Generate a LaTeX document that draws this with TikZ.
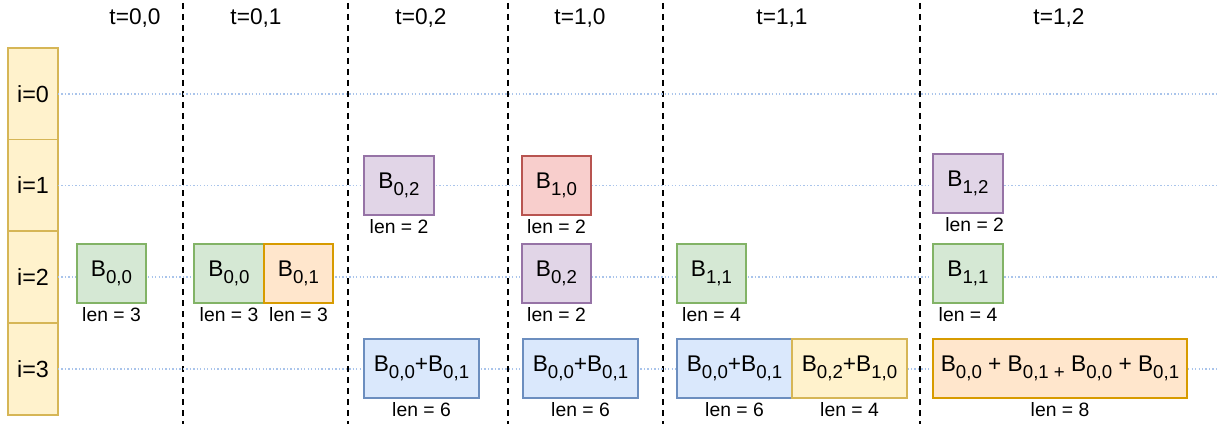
\documentclass[tikz,border=0pt]{standalone}
\usepackage{fontspec}
\setmainfont{Liberation Sans}
\usetikzlibrary{positioning}
\definecolor{mygreen}{RGB}{213,232,212}
\definecolor{mygreenline}{RGB}{130,179,102}
\definecolor{myorange}{RGB}{255,230,204}
\definecolor{myorangeline}{RGB}{215,155,0}
\definecolor{mypurple}{RGB}{225,213,231}
\definecolor{mypurpleline}{RGB}{150,115,166}
\definecolor{myred}{RGB}{248,206,204}
\definecolor{myredline}{RGB}{184,84,80}
\definecolor{myblue}{RGB}{218,232,252}
\definecolor{myblueline}{RGB}{108,142,191}
\definecolor{myyellow}{RGB}{255,242,204}
\definecolor{myyellowline}{RGB}{214,182,86}
\definecolor{mydots}{RGB}{169,196,235}
\newcommand{\bsub}[1]{B\raisebox{-0.3em}{\fontsize{14pt}{14pt}\selectfont #1}}

\begin{document}
\begin{tikzpicture}[x=0.75pt,y=-0.75pt,
  blk/.style={draw, line width=1.2pt, minimum height=44pt, inner sep=0pt, outer sep=0pt,
    anchor=west, font=\fontsize{17pt}{20pt}\selectfont},
  grn/.style={blk, fill=mygreen, draw=mygreenline},
  org/.style={blk, fill=myorange, draw=myorangeline},
  prp/.style={blk, fill=mypurple, draw=mypurpleline},
  rd/.style={blk, fill=myred, draw=myredline},
  blu/.style={blk, fill=myblue, draw=myblueline},
  ylw/.style={blk, fill=myyellow, draw=myyellowline},
  lenlbl/.style={inner sep=0pt, outer sep=0pt, font=\fontsize{14.5pt}{16pt}\selectfont},
  rowbox/.style={draw=myyellowline, fill=myyellow, line width=1.2pt, minimum width=37.5pt,
    minimum height=69pt, outer sep=0pt, font=\fontsize{17.5pt}{20pt}\selectfont},
  hdr/.style={font=\fontsize{17pt}{20pt}\selectfont},
  rowline/.style={mydots, line width=1.3pt, dash pattern=on 1pt off 1.6pt},
  sep/.style={line width=1.5pt, dash pattern=on 4.5pt off 3.75pt}]
\useasboundingbox (0,0) rectangle (1219,424);

% time steps
\foreach \x in {183,348,508,663,920}
  \draw[sep] (\x,3) -- (\x,424);
\node[hdr] (t00) at (135,18) {t=0,0};
\node[hdr] (t01) at (256,18) {t=0,1};
\node[hdr] (t02) at (421,18) {t=0,2};
\node[hdr] (t10) at (580,18) {t=1,0};
\node[hdr] (t11) at (782,18) {t=1,1};
\node[hdr] (t12) at (1059,18) {t=1,2};

% ranks
\coordinate (rightend) at (1219,0);
\foreach \r/\y in {0/94,1/185.5,2/277,3/369}{
  \node[rowbox] (i\r) at (33,\y) {i=\r};
  \draw[rowline] (i\r.east) -- (i\r.east -| rightend);
}

% t=0,0
\node[grn, minimum width=51.75pt] (a1) at (77,273.5) {\bsub{0,0}};
\node[lenlbl, below=3.5pt of a1] (la1) {len = 3};

% t=0,1
\node[grn, minimum width=52.5pt] (b1) at (194,273.5) {\bsub{0,0}};
\node[org, minimum width=51.75pt, right=0pt of b1] (b2) {\bsub{0,1}};
\node[lenlbl, below=3.5pt of b1] (lb1) {len = 3};
\node[lenlbl, below=3.5pt of b2] (lb2) {len = 3};

% t=0,2
\node[prp, minimum width=52.5pt] (c1) at (364,185.5) {\bsub{0,2}};
\node[blu, minimum width=86.25pt] (c2) at (364,368.5) {\bsub{0,0}+\bsub{0,1}};
\node[lenlbl, below=3.5pt of c1] (lc1) {len = 2};
\node[lenlbl, below=3.5pt of c2] (lc2) {len = 6};

% t=1,0
\node[rd, minimum width=51.75pt] (d1) at (522,185.5) {\bsub{1,0}};
\node[prp, minimum width=51.75pt] (d2) at (522,273.5) {\bsub{0,2}};
\node[blu, minimum width=86.25pt] (d3) at (523,368.5) {\bsub{0,0}+\bsub{0,1}};
\node[lenlbl, below=3.5pt of d1] (ld1) {len = 2};
\node[lenlbl, below=3.5pt of d2] (ld2) {len = 2};
\node[lenlbl, below=3.5pt of d3] (ld3) {len = 6};

% t=1,1
\node[grn, minimum width=51.75pt] (e1) at (677,273.5) {\bsub{1,1}};
\node[blu, minimum width=86.25pt] (e2) at (677,368.5) {\bsub{0,0}+\bsub{0,1}};
\node[ylw, minimum width=86.25pt, right=0pt of e2] (e3) {\bsub{0,2}+\bsub{1,0}};
\node[lenlbl, below=3.5pt of e1] (le1) {len = 4};
\node[lenlbl, below=3.5pt of e2] (le2) {len = 6};
\node[lenlbl, below=3.5pt of e3] (le3) {len = 4};

% t=1,2
\node[prp, minimum width=52.5pt] (f1) at (933,183.5) {\bsub{1,2}};
\node[grn, minimum width=52.5pt] (f2) at (933,273.5) {\bsub{1,1}};
\node[org, minimum width=190.5pt] (f3) at (933,368.5) {\bsub{0,0} + \bsub{0,1 +} \bsub{0,0} + \bsub{0,1}};
\node[lenlbl, below=3.5pt of f1, xshift=5pt] (lf1) {len = 2};
\node[lenlbl, below=3.5pt of f2] (lf2) {len = 4};
\node[lenlbl, below=3.5pt of f3] (lf3) {len = 8};
\end{tikzpicture}
\end{document}
